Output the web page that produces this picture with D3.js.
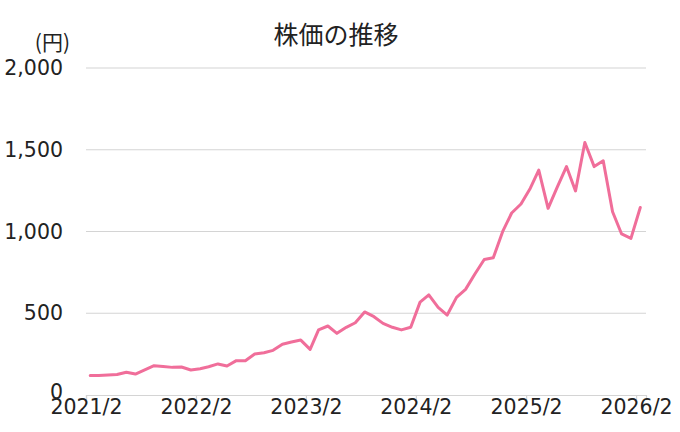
<!DOCTYPE html>
<html><head><meta charset="utf-8">
<script src="https://cdn.jsdelivr.net/npm/d3@7"></script>
<style>
html,body{margin:0;padding:0;background:#fff;}
</style></head>
<body>
<svg id="chart" width="680" height="432"></svg>
<script>
const title = "株価の推移";
const yUnit = "(円)";
const startMonth = "2021-02";
const prices = [120,120,122,125,139,128,153,179,175,169,171,153,161,173,190,177,210,210,251,258,
  273,310,324,336,279,398,422,377,414,442,508,479,438,414,398,414,568,612,536,489,
  597,646,740,829,839,999,1113,1168,1265,1376,1142,1270,1397,1248,1544,1397,1433,1121,985,958,1147];
const yTicks = [0,500,1000,1500,2000];
const xTickLabels = ["2021/2","2022/2","2023/2","2024/2","2025/2","2026/2"];

const parseM = d3.timeParse("%Y-%m");
const start = parseM(startMonth);
const data = prices.map((v,i)=>({date:d3.timeDay.offset(d3.timeMonth.offset(start,i),14), value:v}));
const xTickDates = xTickLabels.map(s=>d3.timeParse("%Y/%m")(s));

const svg = d3.select("#chart");
const mLeft=86, mRight=646, mTop=68, mBottom=395;
const x = d3.scaleTime().domain([start, new Date(2026,2,6)]).range([mLeft,mRight]);
const y = d3.scaleLinear().domain([0,2000]).range([mBottom,mTop]);

const font = "'DejaVu Sans', sans-serif";

// gridlines
svg.append("g").selectAll("line").data(yTicks.filter(d=>d>0)).join("line")
  .attr("x1",mLeft).attr("x2",mRight).attr("y1",d=>y(d)).attr("y2",d=>y(d))
  .attr("stroke","#d4d4d4").attr("stroke-width",1.2);

// y labels
svg.append("g").selectAll("text").data(yTicks).join("text")
  .attr("x",63).attr("y",d=>d===0 ? y(d)-3 : y(d)).attr("text-anchor","end").attr("dominant-baseline","central")
  .attr("font-family",font).attr("font-size",20.5).attr("fill","#222")
  .text(d=>d3.format(",")(d));

// x axis
const xAxis = d3.axisBottom(x).tickValues(xTickDates).tickSize(5).tickFormat((d,i)=>xTickLabels[i]);
const gx = svg.append("g").attr("transform",`translate(0,${mBottom})`).call(xAxis);
gx.select(".domain").attr("stroke","#d4d4d4").attr("stroke-width",1.2);
gx.selectAll(".tick line").attr("stroke","#d4d4d4").attr("stroke-width",1.2);
gx.selectAll(".tick text").attr("font-family",font).attr("font-size",20.5).attr("fill","#222").attr("dy","0.8em").attr("y",3);

// line
const line = d3.line().x(d=>x(d.date)).y(d=>y(d.value));
svg.append("path").datum(data).attr("d",line).attr("fill","none")
  .attr("stroke","#f06e9a").attr("stroke-width",3).attr("stroke-linejoin","round").attr("stroke-linecap","round");

// title
svg.append("text").attr("x",336).attr("y",33).attr("text-anchor","middle").attr("dominant-baseline","central")
  .attr("font-family","'Noto Sans CJK JP', sans-serif").attr("font-size",25).attr("fill","#222").text(title);
// unit
svg.append("text").attr("x",70).attr("y",41).attr("text-anchor","end").attr("dominant-baseline","central")
  .attr("font-family","'Noto Sans CJK JP', sans-serif").attr("font-size",21).attr("fill","#222").text(yUnit);
</script>
</body></html>
